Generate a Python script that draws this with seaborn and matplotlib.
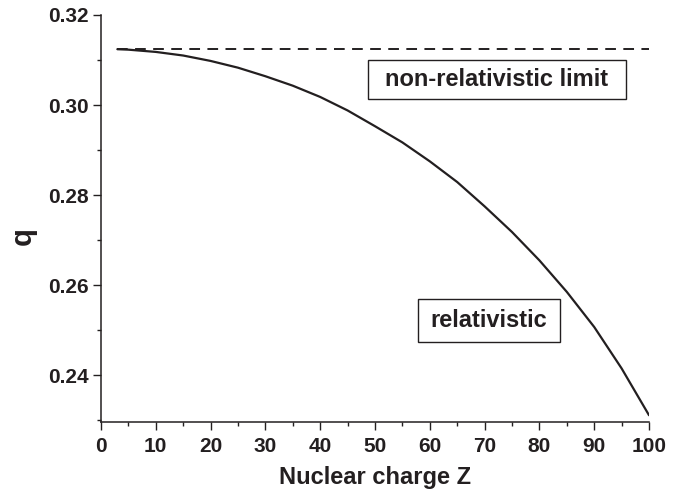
import matplotlib
matplotlib.use("Agg")
import matplotlib.pyplot as plt
from matplotlib.patches import Rectangle
from matplotlib.ticker import MultipleLocator
import seaborn as sns
import pandas as pd

# Data
z_values = [3, 5, 10, 15, 20, 25, 30, 35, 40, 45, 50, 55, 60, 65, 70, 75, 80, 85, 90, 95, 100]
q_relativistic = [0.3124, 0.3123, 0.3118, 0.3110, 0.3098, 0.3083, 0.3064, 0.3043, 0.3018, 0.2988,
                  0.2953, 0.2917, 0.2875, 0.2829, 0.2775, 0.2718, 0.2655, 0.2585, 0.2507, 0.2415, 0.2311]
z_limit = [3, 100]
q_limit = [0.3124, 0.3124]
x_ticks = [0, 10, 20, 30, 40, 50, 60, 70, 80, 90, 100]
y_ticks = [0.24, 0.26, 0.28, 0.30, 0.32]
label_limit = "non-relativistic limit"
label_rel = "relativistic"
x_label = "Nuclear charge Z"
y_label = "q"

sns.set_theme(style="ticks")
plt.rcParams['font.family'] = ['Liberation Sans', 'DejaVu Sans']
ink = '#231f20'

fig = plt.figure(figsize=(6.96, 4.95), dpi=100)
ax = fig.add_axes([0.145, 0.1475, 0.7875, 0.8222])

df_rel = pd.DataFrame({"Z": z_values, "q": q_relativistic})
df_lim = pd.DataFrame({"Z": z_limit, "q": q_limit})
sns.lineplot(data=df_rel, x="Z", y="q", ax=ax, color=ink, linewidth=1.6)
sns.lineplot(data=df_lim, x="Z", y="q", ax=ax, color=ink, linewidth=1.4,
             linestyle=(0, (5.5, 3.8)))

ax.set_xlim(0, 100)
ax.set_ylim(0.2296, 0.32)
ax.set_xticks(x_ticks)
ax.set_yticks(y_ticks)
ax.set_xticklabels([str(t) for t in x_ticks])
ax.set_yticklabels([f"{t:.2f}" for t in y_ticks])
ax.xaxis.set_minor_locator(MultipleLocator(5))
ax.yaxis.set_minor_locator(MultipleLocator(0.01))

for s in ['top', 'right']:
    ax.spines[s].set_visible(False)
for s in ['left', 'bottom']:
    ax.spines[s].set_linewidth(1.1)
    ax.spines[s].set_color(ink)

ax.tick_params(which='major', direction='out', length=5.5, width=1.0, color=ink,
               labelsize=15, labelcolor=ink, pad=3.5)
ax.tick_params(axis='x', which='major', pad=5)
ax.tick_params(which='minor', direction='out', length=3, width=1.0, color=ink)
for lab in ax.get_xticklabels() + ax.get_yticklabels():
    lab.set_fontweight('bold')

ax.set_xlabel(x_label, fontsize=17, fontweight='bold', color=ink)
ax.set_ylabel(y_label, fontsize=21, fontweight='bold', color=ink)
ax.xaxis.set_label_coords(0.5, -0.108)
ax.yaxis.set_label_coords(-0.117, 0.458)

# Annotation boxes
ax.add_patch(Rectangle((0.487, 0.794), 0.471, 0.095, transform=ax.transAxes,
                       fill=False, edgecolor=ink, linewidth=1.0))
ax.text(0.7225, 0.8415, label_limit, transform=ax.transAxes, ha='center', va='center',
        fontsize=17, fontweight='bold', color=ink)
ax.add_patch(Rectangle((0.578, 0.197), 0.260, 0.105, transform=ax.transAxes,
                       fill=False, edgecolor=ink, linewidth=1.0))
ax.text(0.708, 0.2495, label_rel, transform=ax.transAxes, ha='center', va='center',
        fontsize=17, fontweight='bold', color=ink)

fig.savefig("out.png", dpi=100)
